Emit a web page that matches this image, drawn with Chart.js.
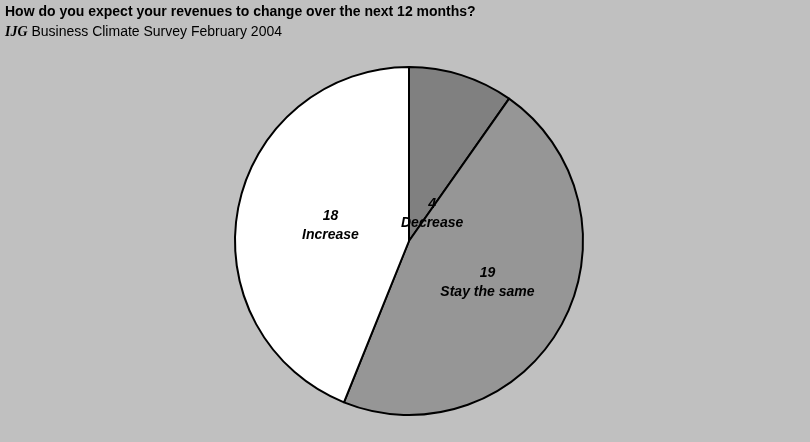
<!DOCTYPE html>
<html>
<head>
<meta charset="utf-8">
<script src="https://cdn.jsdelivr.net/npm/chart.js@4.4.1/dist/chart.umd.min.js"></script>
<style>
  html, body { margin: 0; padding: 0; background: #c0c0c0; }
  #wrap { position: relative; width: 810px; height: 442px; background: #c0c0c0; overflow: hidden; }
  #c { position: absolute; left: 0; top: 0; }
  .t1 { position: absolute; left: 5px; top: 3px; font: bold 14px "Liberation Sans", Arial, sans-serif; color: #000; white-space: nowrap; }
  .t2 { position: absolute; left: 5px; top: 23px; font: 14px "Liberation Sans", Arial, sans-serif; color: #000; white-space: nowrap; }
  .t2 .ijg { font: bold italic 14px "Liberation Serif", "Times New Roman", serif; }
</style>
</head>
<body>
<div id="wrap">
  <canvas id="c" width="810" height="442"></canvas>
  <div class="t1">How do you expect your revenues to change over the next 12 months?</div>
  <div class="t2"><span class="ijg">IJG</span> Business Climate Survey February 2004</div>
</div>
<script>
const categories = ["Decrease", "Stay the same", "Increase"];
const counts = [4, 19, 18];
const sliceColors = ["#808080", "#969696", "#ffffff"];

// label placement (style): radial fraction of radius and pixel nudge
const labelPlacement = [
  { r: 0.25, dx: 10, dy: 14 },
  { r: 0.50, dx: 2, dy: 0 },
  { r: 0.46, dx: 0, dy: 0 }
];

const sliceLabels = {
  id: 'sliceLabels',
  afterDatasetsDraw(chart) {
    const ctx = chart.ctx;
    const meta = chart.getDatasetMeta(0);
    ctx.save();
    ctx.font = 'bold italic 14px "Liberation Sans", Arial, sans-serif';
    ctx.fillStyle = '#000';
    ctx.textAlign = 'center';
    ctx.textBaseline = 'middle';
    meta.data.forEach((arc, i) => {
      const p = arc.getProps(['x', 'y', 'startAngle', 'endAngle', 'outerRadius'], true);
      const mid = (p.startAngle + p.endAngle) / 2;
      const pl = labelPlacement[i];
      const rr = p.outerRadius * pl.r;
      const x = p.x + Math.cos(mid) * rr + pl.dx;
      const y = p.y + Math.sin(mid) * rr + pl.dy;
      ctx.fillText(String(counts[i]), x, y - 9.5);
      ctx.fillText(categories[i], x, y + 9.5);
    });
    ctx.restore();
  }
};

new Chart(document.getElementById('c'), {
  type: 'pie',
  data: {
    labels: categories,
    datasets: [{
      data: counts,
      backgroundColor: sliceColors,
      borderColor: '#000000',
      borderWidth: 2,
      hoverOffset: 0
    }]
  },
  options: {
    responsive: false,
    animation: false,
    devicePixelRatio: 1,
    layout: { padding: { left: 234, right: 226, top: 66, bottom: 26 } },
    plugins: {
      legend: { display: false },
      tooltip: { enabled: false },
      title: { display: false }
    },
    events: []
  },
  plugins: [sliceLabels]
});
</script>
</body>
</html>
